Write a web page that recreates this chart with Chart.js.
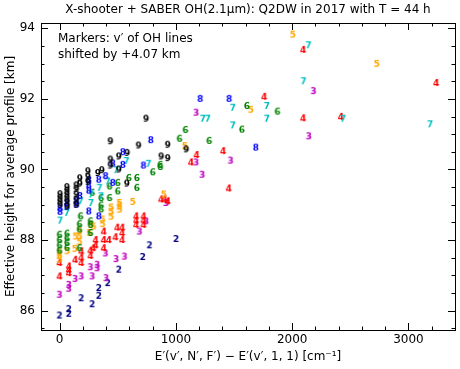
<!DOCTYPE html>
<html>
<head>
<meta charset="utf-8">
<script src="https://cdn.jsdelivr.net/npm/chart.js@4/dist/chart.umd.min.js"></script>
<style>
  html, body { margin: 0; padding: 0; background: #fff; }
  #wrap { width: 460px; height: 369px; position: relative; }
</style>
</head>
<body>
<div id="wrap"><canvas id="chart"></canvas></div>
<script>
// valores: x = E'(v',N',F') - E'(v',1,1) [cm^-1], y = altura efetiva [km]
const v2x = [0, 80, 80, 187, 281, 338, 338, 415, 510, 716, 774, 1003];
const v2y = [85.86, 86.04, 85.91, 86.35, 86.18, 86.64, 86.42, 86.78, 87.16, 87.52, 87.85, 88.03];

const v3x = [0, 80, 80, 135, 187, 266, 281, 324, 324, 395, 401, 487, 559, 688, 745, 917, 1175, 1175, 1227, 1471, 2144, 2184];
const v3y = [86.45, 86.73, 86.62, 86.90, 86.97, 87.23, 86.97, 87.20, 87.30, 87.62, 86.92, 87.46, 87.53, 88.24, 88.53, 89.05, 91.61, 90.20, 89.85, 90.25, 90.94, 92.22];

const v4x = [0, 0, 80, 80, 80, 135, 187, 187, 187, 266, 266, 290, 310, 310, 380, 380, 380, 424, 481, 496, 539, 539, 539, 659, 659, 659, 722, 722, 722, 874, 903, 931, 1130, 1178, 1407, 1455, 1760, 2095, 2095, 2419, 3239];
const v4y = [87.35, 86.97, 87.06, 87.15, 87.25, 87.44, 87.35, 87.50, 87.68, 87.70, 87.55, 87.77, 88.00, 87.85, 88.00, 88.24, 87.77, 88.00, 88.08, 88.35, 88.00, 88.20, 88.35, 88.43, 88.55, 88.67, 88.43, 88.55, 88.67, 89.15, 89.15, 89.10, 90.20, 90.41, 90.52, 89.46, 92.06, 93.39, 91.45, 91.49, 92.45];

const v5x = [0, 0, 0, 66, 132, 138, 172, 172, 172, 258, 272, 292, 370, 370, 444, 444, 444, 516, 516, 516, 630, 897, 1078, 1645, 2006, 2728];
const v5y = [87.45, 87.55, 87.65, 87.68, 87.75, 88.10, 87.95, 88.10, 88.25, 88.20, 88.43, 88.38, 88.45, 88.58, 88.66, 88.80, 88.92, 88.86, 88.95, 89.05, 89.08, 89.29, 90.66, 91.69, 93.82, 92.99];

const v6x = [0, 0, 0, 0, 65, 65, 65, 65, 172, 172, 172, 181, 266, 266, 266, 281, 358, 358, 358, 430, 430, 501, 501, 596, 665, 665, 802, 866, 866, 1032, 1083, 1287, 1568, 1611, 1874];
const v6y = [87.70, 87.85, 88.00, 88.15, 87.78, 87.92, 88.05, 88.18, 88.30, 88.45, 87.77, 88.67, 88.43, 88.53, 88.20, 89.34, 89.19, 88.98, 88.87, 89.52, 89.19, 89.62, 89.38, 89.76, 89.76, 89.48, 89.92, 90.13, 90.07, 90.87, 91.12, 90.81, 91.13, 91.80, 91.64];

const v7x = [5, 63, 181, 272, 272, 344, 358, 415, 487, 576, 765, 1232, 1275, 1490, 1490, 1783, 1783, 2098, 2141, 2439, 3187];
const v7y = [88.55, 88.77, 89.10, 89.29, 89.05, 89.48, 89.24, 89.66, 89.98, 90.24, 90.16, 91.44, 91.44, 91.75, 91.25, 91.80, 91.44, 92.50, 93.52, 91.44, 91.28];

const v8x = [5, 5, 65, 65, 145, 145, 175, 252, 252, 252, 252, 338, 338, 396, 458, 458, 545, 545, 722, 785, 1210, 1459, 1688];
const v8y = [88.80, 88.90, 88.95, 89.05, 89.00, 89.10, 89.25, 89.40, 89.55, 89.70, 88.81, 89.71, 88.67, 89.81, 89.62, 90.17, 90.49, 90.13, 90.11, 90.83, 92.00, 92.00, 90.62];

const v9x = [5, 5, 5, 5, 65, 65, 65, 65, 65, 65, 145, 145, 145, 145, 145, 175, 175, 245, 245, 245, 330, 365, 438, 438, 438, 510, 510, 582, 579, 680, 745, 875, 931, 931, 1090];
const v9y = [89.00, 89.10, 89.20, 89.30, 88.95, 89.10, 89.20, 89.30, 89.40, 89.50, 89.00, 89.15, 89.30, 89.45, 89.55, 89.60, 89.75, 89.65, 89.80, 89.95, 89.90, 89.98, 90.80, 90.28, 90.11, 90.37, 90.00, 90.47, 89.60, 90.68, 91.44, 90.37, 90.70, 90.32, 90.57];

const xTicks = [0, 1000, 2000, 3000];
const yTicks = [86, 88, 90, 92, 94];

const FONT = 'DejaVu Sans';

// cada v' vira um marcador de texto (o próprio dígito)
function digitMarker(txt, color) {
  const c = document.createElement('canvas');
  c.width = 12; c.height = 12;
  const g = c.getContext('2d');
  g.font = 'bold 9px "' + FONT + '"';
  g.fillStyle = color;
  g.textAlign = 'center';
  g.textBaseline = 'middle';
  g.fillText(txt, 6, 6.5);
  return c;
}

function serie(v, xs, ys, color) {
  return {
    label: "v' = " + v,
    data: xs.map((x, i) => ({ x: x, y: ys[i] })),
    pointStyle: digitMarker(String(v), color),
    pointRadius: 4,
    showLine: false
  };
}

// ticks para dentro nos quatro lados + moldura + textos
const moldura = {
  id: 'moldura',
  afterDatasetsDraw(chart) {
    const ctx = chart.ctx;
    const a = chart.chartArea;
    const sx = chart.scales.x, sy = chart.scales.y;
    ctx.save();
    ctx.strokeStyle = '#000';
    ctx.lineWidth = 1;
    ctx.beginPath();
    for (let v = 0; v <= sx.max; v += 200) {
      const px = Math.round(sx.getPixelForValue(v)) + 0.5;
      const len = (v % 1000 === 0) ? 7 : 3.5;
      ctx.moveTo(px, a.bottom); ctx.lineTo(px, a.bottom - len);
      ctx.moveTo(px, a.top); ctx.lineTo(px, a.top + len);
    }
    for (let v = 85.5; v <= sy.max; v += 0.5) {
      const py = Math.round(sy.getPixelForValue(v)) + 0.5;
      const len = (v % 2 === 0) ? 7 : 3.5;
      ctx.moveTo(a.left, py); ctx.lineTo(a.left + len, py);
      ctx.moveTo(a.right, py); ctx.lineTo(a.right - len, py);
    }
    ctx.stroke();
    ctx.strokeRect(Math.round(a.left) + 0.5, Math.round(a.top) + 0.5,
                   Math.round(a.right - a.left), Math.round(a.bottom - a.top));

    ctx.fillStyle = '#000';
    ctx.font = '12px "' + FONT + '"';
    ctx.textBaseline = 'middle';
    ctx.textAlign = 'center';
    ctx.fillText('X-shooter + SABER OH(2.1\u03bcm): Q2DW in 2017 with T = 44 h',
                 (a.left + a.right) / 2, 10);
    ctx.textAlign = 'left';
    ctx.fillText('Markers: v\u2032 of OH lines', a.left + 17, 38.5);
    ctx.fillText('shifted by +4.07 km', a.left + 17, 54.5);
    ctx.restore();
  }
};

const ctx = document.getElementById('chart').getContext('2d');
const chart = new Chart(ctx, {
  type: 'scatter',
  data: {
    datasets: [
      serie(9, v9x, v9y, '#000000'),
      serie(8, v8x, v8y, '#0000ff'),
      serie(7, v7x, v7y, '#00bfbf'),
      serie(6, v6x, v6y, '#008000'),
      serie(5, v5x, v5y, '#ffa500'),
      serie(4, v4x, v4y, '#ff0000'),
      serie(3, v3x, v3y, '#bf00bf'),
      serie(2, v2x, v2y, '#000080')
    ]
  },
  options: {
    responsive: true,
    maintainAspectRatio: false,
    animation: false,
    layout: { padding: { top: 23, right: 5, left: 0, bottom: 0 } },
    plugins: {
      legend: { display: false },
      tooltip: { enabled: false }
    },
    scales: {
      x: {
        type: 'linear',
        min: -160,
        max: 3400,
        grid: { display: false, drawTicks: false },
        border: { display: false },
        afterBuildTicks: (s) => { s.ticks = xTicks.map(v => ({ value: v })); },
        afterFit: (s) => { s.height = 39; },
        ticks: {
          color: '#000', font: { family: FONT, size: 12 }, padding: 3, maxRotation: 0,
          callback: (v) => String(v)
        },
        title: {
          display: true,
          text: 'E\u2032(v\u2032, N\u2032, F\u2032) \u2212 E\u2032(v\u2032, 1, 1) [cm\u207b\u00b9]',
          color: '#000',
          font: { family: FONT, size: 12 },
          padding: { top: 0, bottom: 5 }
        }
      },
      y: {
        type: 'linear',
        min: 85.45,
        max: 94.15,
        grid: { display: false, drawTicks: false },
        border: { display: false },
        afterBuildTicks: (s) => { s.ticks = yTicks.map(v => ({ value: v })); },
        afterFit: (s) => { s.width = 41; },
        ticks: {
          color: '#000', font: { family: FONT, size: 12 }, padding: 6,
          callback: (v) => String(v)
        },
        title: {
          display: true,
          text: 'Effective height for average profile [km]',
          color: '#000',
          font: { family: FONT, size: 12 },
          padding: { top: 4, bottom: 4 }
        }
      }
    }
  },
  plugins: [moldura]
});
</script>
</body>
</html>
